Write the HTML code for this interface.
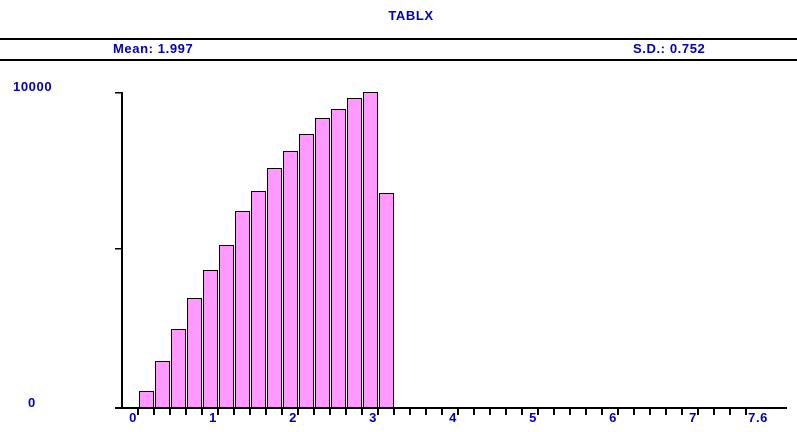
<!DOCTYPE html>
<html><head><style>body{margin:0;background:#fff}svg{display:block}text{font-family:"Liberation Sans",sans-serif;font-weight:bold;font-size:13px;letter-spacing:0.6px;fill:#0000c0}</style></head>
<body>
<svg width="797" height="432" xmlns="http://www.w3.org/2000/svg">
<text x="411" y="20" text-anchor="middle">TABLX</text>
<rect x="0" y="38" width="797" height="2" fill="#000"/>
<rect x="0" y="59" width="797" height="2" fill="#000"/>
<text x="113" y="53">Mean: 1.997</text>
<text x="633" y="53">S.D.: 0.752</text>
<text x="13" y="91">10000</text>
<text x="28" y="407">0</text>
<rect x="121" y="92" width="2" height="317" fill="#000"/>
<rect x="115" y="92" width="7" height="1.5" fill="#000"/>
<rect x="115" y="248" width="7" height="1.5" fill="#000"/>
<rect x="115" y="407" width="672" height="2" fill="#000"/>
<g fill="#ff99ff" stroke="#000" stroke-width="1">
<rect x="139.5" y="391.5" width="14" height="16"/>
<rect x="155.5" y="361.5" width="14" height="46"/>
<rect x="171.5" y="329.5" width="14" height="78"/>
<rect x="187.5" y="298.5" width="14" height="109"/>
<rect x="203.5" y="270.5" width="14" height="137"/>
<rect x="219.5" y="245.5" width="14" height="162"/>
<rect x="235.5" y="211.5" width="14" height="196"/>
<rect x="251.5" y="191.5" width="14" height="216"/>
<rect x="267.5" y="168.5" width="14" height="239"/>
<rect x="283.5" y="151.5" width="14" height="256"/>
<rect x="299.5" y="134.5" width="14" height="273"/>
<rect x="315.5" y="118.5" width="14" height="289"/>
<rect x="331.5" y="109.5" width="14" height="298"/>
<rect x="347.5" y="98.5" width="14" height="309"/>
<rect x="363.5" y="92.5" width="14" height="315"/>
<rect x="379.5" y="193.5" width="14" height="214"/>
</g>
<text x="137" y="422" text-anchor="end">0</text>
<text x="217" y="422" text-anchor="end">1</text>
<text x="297" y="422" text-anchor="end">2</text>
<text x="377" y="422" text-anchor="end">3</text>
<text x="457" y="422" text-anchor="end">4</text>
<text x="537" y="422" text-anchor="end">5</text>
<text x="617" y="422" text-anchor="end">6</text>
<text x="697" y="422" text-anchor="end">7</text>
<text x="768" y="422" text-anchor="end">7.6</text>
<path stroke="#000" stroke-width="2" d="M138 408v7M154 408v7M170 408v7M186 408v7M202 408v7M218 408v7M234 408v7M250 408v7M266 408v7M282 408v7M298 408v7M314 408v7M330 408v7M346 408v7M362 408v7M378 408v7M394 408v7M410 408v7M426 408v7M442 408v7M458 408v7M474 408v7M490 408v7M506 408v7M522 408v7M538 408v7M554 408v7M570 408v7M586 408v7M602 408v7M618 408v7M634 408v7M650 408v7M666 408v7M682 408v7M698 408v7M714 408v7M730 408v7M746 408v7"/>
</svg>
</body></html>
